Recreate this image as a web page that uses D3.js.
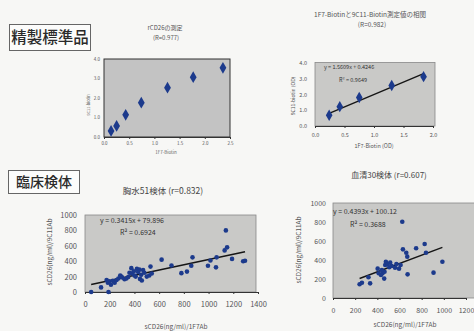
<!DOCTYPE html>
<html><head><meta charset="utf-8">
<script src="https://cdn.jsdelivr.net/npm/d3@7"></script>
<style>body{margin:0;background:#f7f7f5}svg{display:block}</style>
</head><body>
<svg id="c" width="474" height="331"></svg>
<script>
// ---- data ----
const p1X = [0.14, 0.25, 0.43, 0.74, 1.26, 1.77, 2.36];
const p1Y = [0.31, 0.57, 1.14, 1.76, 2.53, 3.07, 3.55];
const p1XTicks = [0, 0.5, 1.0, 1.5, 2.0, 2.5];
const p1YTicks = [0, 1, 2, 3, 4];

const p2X = [0.24, 0.42, 0.75, 1.30, 1.84];
const p2Y = [0.68, 1.22, 1.79, 2.55, 3.11];
const p2Fit = [1.5609, 0.4246];
const p2XTicks = [0, 0.5, 1.0, 1.5, 2.0];
const p2YTicks = [0, 1, 2, 3, 4];

const p3X = [50,130,190,175,185,195,210,225,240,255,270,285,290,300,320,335,350,360,375,380,395,400,410,420,430,440,445,455,460,470,480,500,520,530,540,620,700,780,825,860,870,995,1015,1060,1065,1130,1150,1140,1190,1280,1295];
const p3Y = [0,60,0,155,120,140,95,145,120,155,175,215,205,190,165,175,195,250,310,240,270,215,200,300,260,290,170,225,150,285,250,200,215,330,240,420,345,245,265,340,450,340,410,320,450,540,580,800,430,400,405];
const p3Fit = [0.3415, 79.896];
const p3XTicks = [0,200,400,600,800,1000,1200,1400];
const p3YTicks = [0,200,400,600,800,1000];

const p4X = [240,261,320,335,403,412,433,447,462,465,471,477,492,507,530,560,572,610,625,631,661,670,673,750,827,839,907,987,441,596,516];
const p4Y = [144,161,218,154,309,260,242,260,204,277,347,382,358,323,337,319,358,347,803,512,477,435,249,523,568,477,267,382,295,309,372];
const p4Fit = [0.4393, 100.12];
const p4XTicks = [0,200,400,600,800,1000,1200];
const p4YTicks = [0,200,400,600,800,1000];

// ---- drawing ----
const svg = d3.select('#c');
const FONT = 'Noto Sans CJK JP, Noto Sans, sans-serif';
const BLUE = '#1c3a8c';
const TXT = '#555';

function panel(c){
  const x = d3.scaleLinear().domain(c.xd).range(c.xr);
  const y = d3.scaleLinear().domain(c.yd).range(c.yr);
  const g = svg.append('g');
  g.append('rect').attr('x', c.xr[0]).attr('y', c.yr[1])
    .attr('width', (c.frameR||c.xr[1]) - c.xr[0]).attr('height', c.yr[0]-c.yr[1])
    .attr('fill', c.bg).attr('stroke', c.frame).attr('stroke-width', c.frameW);
  const ax = g.append('g').attr('transform', `translate(0,${c.yr[0]})`)
    .call(d3.axisBottom(x).tickValues(c.xt).tickSize(2).tickPadding(c.tp).tickFormat(c.xf));
  const ay = g.append('g').attr('transform', `translate(${c.xr[0]},0)`)
    .call(d3.axisLeft(y).tickValues(c.yt).tickSize(0).tickPadding(c.tpy).tickFormat(c.yf));
  [ax, ay].forEach(a => {
    a.select('.domain').attr('stroke', '#333').attr('stroke-width', 1);
    a.selectAll('line').attr('stroke', '#333');
    a.selectAll('text').attr('fill', TXT).attr('font-size', c.tfs).attr('font-family', FONT);
  });
  ay.select('.domain').remove();
  if (c.fit) {
    const [m, b] = c.fit;
    const x0 = d3.min(c.px), x1 = d3.max(c.px);
    g.append('line').attr('x1', x(x0)).attr('y1', y(m*x0+b)).attr('x2', x(x1)).attr('y2', y(m*x1+b))
      .attr('stroke', '#151515').attr('stroke-width', 1.4);
  }
  const pts = c.px.map((v,i) => [v, c.py[i]]);
  if (c.diamond) {
    g.selectAll('path.pt').data(pts).join('path').attr('class','pt')
      .attr('d', d3.symbol(d3.symbolDiamond, c.msize)())
      .attr('transform', d => `translate(${x(d[0])},${y(d[1])})`)
      .attr('fill', BLUE);
  } else {
    g.selectAll('circle.pt').data(pts).join('circle').attr('class','pt')
      .attr('cx', d => x(d[0])).attr('cy', d => y(d[1])).attr('r', c.msize).attr('fill', BLUE);
  }
  return {x, y, g};
}

function text(t, x, y, fs, opt={}){
  const el = svg.append('text').attr('x', x).attr('y', y).attr('font-size', fs)
    .attr('font-family', FONT).attr('fill', opt.fill || '#444')
    .attr('text-anchor', opt.anchor || 'middle').attr('font-weight', opt.weight || 'normal');
  if (opt.rot) el.attr('transform', `rotate(-90,${x},${y})`);
  el.text(t);
  return el;
}

// section boxes
svg.append('rect').attr('x', 9.5).attr('y', 24.5).attr('width', 81).attr('height', 26)
  .attr('fill', '#fcfcfb').attr('stroke', '#666').attr('stroke-width', 1);
text('精製標準品', 50, 43, 15.5, {fill:'#2a2a2a', weight:500});
svg.append('rect').attr('x', 8.5).attr('y', 170.5).attr('width', 71).attr('height', 23)
  .attr('fill', '#fcfcfb').attr('stroke', '#666').attr('stroke-width', 1);
text('臨床検体', 44, 187, 14, {fill:'#2a2a2a', weight:500});

// panel 1
panel({xd:[0,2.5], xr:[104,230], yd:[0,4], yr:[137,59], bg:'#c3c3c3', frame:'#333', frameW:1,
  xt:p1XTicks, yt:p1YTicks, xf:d3.format('.1f'), yf:d3.format('.1f'), tfs:4.5, tp:3, tpy:4,
  px:p1X, py:p1Y, diamond:true, msize:40});
text('rCD26の測定', 165, 30, 6, {fill:'#555'});
text('(R=0.977)', 166, 39.5, 6, {fill:'#555'});
text('9C11-biotin', 90, 105, 4, {fill:'#666', rot:true});
text('1F7-Biotin', 166, 154, 4.5, {fill:'#666'});

// panel 2
panel({xd:[0,2], xr:[315,433], yd:[0,4], yr:[126,62.5], bg:'#c9c9c7', frame:'#888', frameW:0.8, frameR:435,
  xt:p2XTicks, yt:p2YTicks, xf:d3.format('.1f'), yf:d3.format('.1f'), tfs:5.5, tp:5, tpy:8,
  px:p2X, py:p2Y, fit:p2Fit, diamond:true, msize:38});
text('1F7-Biotinと9C11-Biotin測定値の相関', 370, 17, 6.5, {fill:'#555'});
text('(R=0.982)', 372, 27, 6.5, {fill:'#555'});
text('y = 1.5609x + 0.4246', 324, 69, 5.5, {fill:'#333', anchor:'start'});
text('R² = 0.9649', 339, 82, 5.5, {fill:'#333', anchor:'start'});
text('9C11-biotin (OD)', 295, 96, 5, {fill:'#555', rot:true});
text('1F7-Biotin (OD)', 374, 148, 5.5, {fill:'#555'});

// panel 3
panel({xd:[0,1400], xr:[85,258], yd:[0,1000], yr:[292,215], bg:'#c9c9c7', frame:'#888', frameW:0.8, frameR:256,
  xt:p3XTicks, yt:p3YTicks, xf:d3.format('d'), yf:d3.format('d'), tfs:7.5, tp:8, tpy:8,
  px:p3X, py:p3Y, fit:p3Fit, msize:2.3});
text('胸水51検体 (r=0.832)', 163, 194, 8.5, {fill:'#444'});
text('y = 0.3415x + 79.896', 100, 223, 7, {fill:'#333', anchor:'start'});
text('R² = 0.6924', 120, 235, 7, {fill:'#333', anchor:'start'});
text('sCD26(ng/ml)/9C11Ab', 52, 252, 6.5, {fill:'#555', rot:true});
text('sCD26(ng/ml)/1F7Ab', 176, 329, 6.5, {fill:'#555'});

// panel 4
panel({xd:[0,1200], xr:[333,466], yd:[0,1000], yr:[298,203], bg:'#c9c9c7', frame:'#888', frameW:0.8, frameR:480,
  xt:p4XTicks, yt:p4YTicks, xf:d3.format('d'), yf:d3.format('d'), tfs:7, tp:8, tpy:7,
  px:p4X, py:p4Y, fit:p4Fit, msize:2.3});
text('血清30検体 (r=0.607)', 389, 178, 8, {fill:'#444'});
text('y = 0.4393x + 100.12', 333, 214, 7, {fill:'#333', anchor:'start'});
text('R² = 0.3688', 350, 227, 7, {fill:'#333', anchor:'start'});
text('sCD26(ng/ml)/9C11Ab', 301, 250, 6.5, {fill:'#555', rot:true});
text('sCD26(ng/ml)/1F7Ab', 405, 327, 6.5, {fill:'#555'});
</script>
</body></html>
